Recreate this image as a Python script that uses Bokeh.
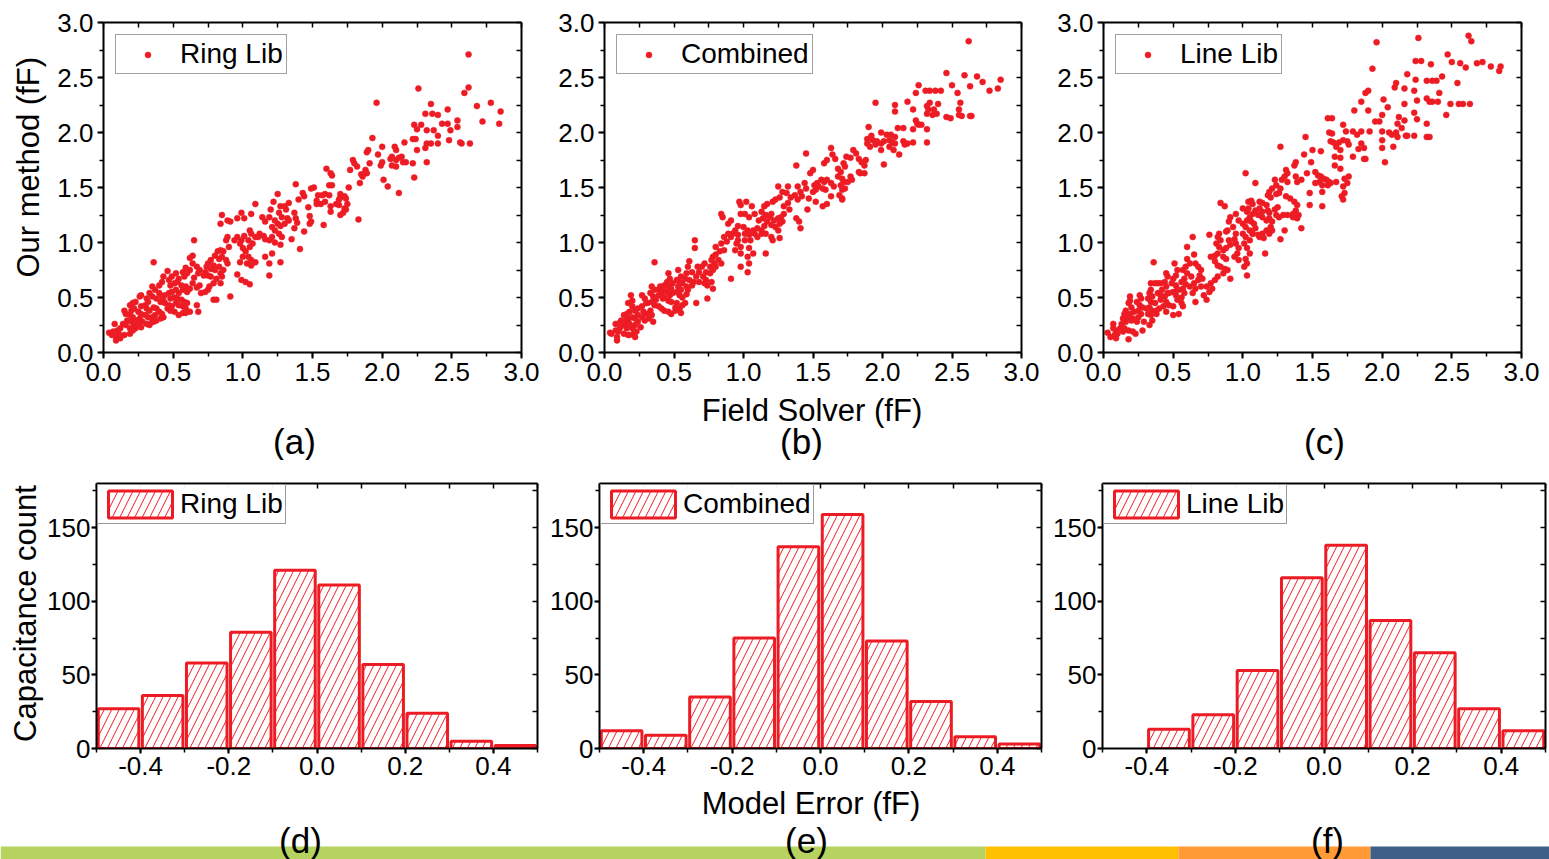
import math
from bokeh.plotting import figure
from bokeh.layouts import row, column
from bokeh.models import (LinearAxis, SingleIntervalTicker, FixedTicker, NumeralTickFormatter,
                          Legend, LegendItem, ColumnDataSource, Range1d)
from bokeh.core.properties import value
from bokeh.embed import file_html
from bokeh.resources import INLINE

RED = "#ed1c24"
FONT = "Liberation Sans"

# ---------------- data ----------------
scatter_names = ["Ring Lib", "Combined", "Line Lib"]
top_tags = ["(a)", "(b)", "(c)"]
bottom_tags = ["(d)", "(e)", "(f)"]
x_title_top = "Field Solver (fF)"
y_title_top = "Our method (fF)"
x_title_bottom = "Model Error (fF)"
y_title_bottom = "Capacitance count"

ring_pts = [
(2.62,2.71),(2.26,2.40),(2.62,2.41),(2.59,2.36),(1.96,2.27),(2.78,2.27),(2.68,2.24),(2.85,2.19),(2.47,2.21),(2.35,2.26),
(2.31,2.17),(2.36,2.17),(2.40,2.16),(2.72,2.10),(2.84,2.08),(2.54,2.11),(2.43,2.08),(2.47,2.08),(2.23,2.07),(2.28,2.07),
(2.25,2.03),(2.32,2.02),(2.37,2.02),(2.49,2.02),(2.54,2.05),(2.40,1.97),(1.93,1.95),(2.00,1.87),(2.48,1.93),(2.56,1.91),
(2.57,1.90),(2.63,1.90),(2.22,1.94),(2.24,1.94),(2.32,1.90),(2.35,1.90),(2.40,1.90),(2.31,1.86),(2.25,1.84),(2.16,1.91),
(2.09,1.87),(2.10,1.84),(1.90,1.84),(1.89,1.82),(1.97,1.80),(2.07,1.78),(2.06,1.76),(2.10,1.75),(2.12,1.77),(2.14,1.78),
(2.32,1.73),(2.22,1.72),(2.17,1.73),(2.15,1.73),(2.00,1.73),(1.99,1.70),(2.07,1.70),(2.10,1.69),(1.79,1.75),(1.80,1.72),
(1.91,1.72),(1.88,1.66),(1.85,1.62),(1.86,1.60),(1.89,1.63),(1.77,1.66),(1.82,1.69),(2.23,1.59),(1.84,1.54),(2.01,1.57),
(2.04,1.51),(2.12,1.45),(1.83,1.21),(1.60,1.67),(1.63,1.63),(1.64,1.61),(1.62,1.52),(1.64,1.52),(1.76,1.50),(1.49,1.49),
(1.51,1.50),(1.38,1.53),(1.43,1.45),(1.44,1.42),(1.40,1.39),(1.47,1.32),(1.33,1.36),(1.54,1.43),(1.57,1.43),(1.59,1.44),
(1.62,1.43),(1.70,1.44),(1.73,1.42),(1.70,1.41),(1.74,1.40),(1.69,1.39),(1.53,1.38),(1.56,1.35),(1.59,1.37),(1.53,1.35),
(1.63,1.33),(1.67,1.35),(1.69,1.34),(1.73,1.31),(1.75,1.35),(1.63,1.28),(1.70,1.25),(1.72,1.27),(1.74,1.30),(1.58,1.16),
(1.48,1.24),(1.49,1.19),(1.48,1.17),(1.44,1.10),(1.41,0.94),(1.35,1.03),(1.37,1.27),(1.38,1.22),(1.39,1.18),(1.37,1.13),
(1.25,1.44),(1.22,1.37),(1.27,1.33),(1.30,1.33),(1.31,1.30),(1.26,1.27),(1.28,1.23),(1.32,1.22),(1.33,1.20),(1.30,1.17),
(1.23,1.20),(1.25,1.17),(1.27,1.15),(1.21,1.14),(1.23,1.11),(1.20,1.30),(1.19,1.23),(1.14,1.23),(1.16,1.19),(1.09,1.35),
(1.06,1.26),(0.99,1.27),(1.01,1.22),(0.96,1.22),(0.85,1.25),(0.89,1.20),(0.91,1.19),(0.84,1.17),(1.12,1.08),(1.15,1.06),
(1.16,1.03),(1.19,1.02),(1.21,1.05),(1.11,1.05),(1.26,1.08),(1.28,1.05),(1.27,0.98),(1.23,1.00),(1.27,0.82),(1.21,0.90),
(1.16,0.87),(1.19,0.81),(1.19,0.70),(1.05,1.11),(1.06,1.08),(1.09,1.05),(1.04,1.02),(1.07,0.99),(1.05,0.96),(1.01,1.06),
(0.99,1.02),(0.96,1.05),(0.94,1.02),(0.98,0.99),(1.00,0.95),(1.02,0.92),(1.04,0.87),(1.06,0.84),(1.03,0.81),(1.00,0.87),
(0.98,0.82),(0.96,0.71),(0.99,0.66),(1.02,0.64),(1.05,0.62),(1.06,0.79),(1.09,0.82),(0.89,1.05),(0.88,1.02),(0.90,0.96),
(0.86,0.92),(0.84,0.93),(0.82,0.92),(0.80,0.88),(0.83,0.85),(0.85,0.87),(0.88,0.84),(0.89,0.81),(0.77,0.84),(0.75,0.81),
(0.79,0.79),(0.77,0.76),(0.80,0.75),(0.83,0.78),(0.74,0.78),(0.73,0.73),(0.72,0.70),(0.75,0.70),(0.77,0.69),(0.81,0.67),
(0.84,0.72),(0.86,0.75),(0.85,0.69),(0.79,0.63),(0.84,0.63),(0.76,0.60),(0.91,0.51),(0.79,0.48),(0.81,0.48),(0.70,0.54),
(0.73,0.55),(0.75,0.57),(0.67,0.59),(0.69,0.61),(0.64,0.63),(0.65,0.68),(0.68,0.72),(0.69,0.75),(0.67,0.78),(0.64,0.81),
(0.62,0.86),(0.65,1.02),(0.64,0.88),(0.59,0.77),(0.62,0.75),(0.60,0.72),(0.57,0.73),(0.58,0.69),(0.54,0.67),(0.52,0.72),
(0.49,0.69),(0.47,0.66),(0.53,0.64),(0.51,0.63),(0.48,0.61),(0.56,0.61),(0.59,0.60),(0.62,0.58),(0.57,0.57),(0.54,0.54),
(0.60,0.55),(0.52,0.57),(0.49,0.55),(0.47,0.54),(0.44,0.52),(0.51,0.50),(0.48,0.49),(0.53,0.49),(0.56,0.48),(0.58,0.46),
(0.60,0.45),(0.54,0.43),(0.57,0.42),(0.59,0.40),(0.52,0.45),(0.62,0.37),(0.59,0.36),(0.57,0.36),(0.54,0.34),(0.67,0.43),
(0.68,0.37),(0.46,0.74),(0.43,0.69),(0.42,0.64),(0.40,0.61),(0.37,0.57),(0.40,0.54),(0.42,0.51),(0.38,0.49),(0.41,0.46),
(0.43,0.47),(0.44,0.45),(0.47,0.43),(0.49,0.42),(0.46,0.40),(0.48,0.38),(0.51,0.37),(0.35,0.60),(0.33,0.54),(0.35,0.51),
(0.36,0.82),(0.31,0.49),(0.32,0.46),(0.30,0.43),(0.27,0.42),(0.31,0.40),(0.33,0.38),(0.36,0.41),(0.38,0.40),(0.40,0.37),
(0.42,0.35),(0.37,0.34),(0.35,0.32),(0.41,0.31),(0.43,0.32),(0.38,0.29),(0.36,0.28),(0.26,0.51),(0.27,0.52),(0.23,0.46),
(0.21,0.45),(0.19,0.43),(0.22,0.40),(0.20,0.38),(0.25,0.37),(0.27,0.35),(0.30,0.34),(0.32,0.32),(0.26,0.31),(0.24,0.29),
(0.21,0.32),(0.19,0.34),(0.16,0.35),(0.15,0.38),(0.28,0.28),(0.31,0.26),(0.33,0.25),(0.35,0.28),(0.25,0.26),(0.22,0.25),
(0.27,0.23),(0.20,0.28),(0.17,0.29),(0.14,0.26),(0.16,0.25),(0.19,0.22),(0.21,0.20),(0.23,0.22),(0.12,0.22),(0.10,0.20),
(0.11,0.17),(0.15,0.16),(0.09,0.14),(0.12,0.13),(0.19,0.17),(0.04,0.18),(0.08,0.26),(0.09,0.11),(0.06,0.16),(0.07,0.19),
]

combined_pts = [
(2.62,2.83),(2.46,2.54),(2.59,2.52),(2.68,2.51),(2.72,2.46),(2.85,2.48),(2.77,2.38),(2.83,2.40),(2.26,2.43),(2.50,2.43),
(2.63,2.42),(2.54,2.36),(2.24,2.36),(2.31,2.38),(2.34,2.38),(2.38,2.38),(2.42,2.38),(2.34,2.27),(2.40,2.26),(2.18,2.28),
(1.95,2.27),(2.09,2.25),(2.09,2.19),(2.56,2.27),(2.22,2.21),(2.32,2.24),(2.33,2.21),(2.37,2.21),(2.32,2.17),(2.36,2.16),
(2.39,2.17),(2.46,2.14),(2.49,2.13),(2.55,2.21),(2.55,2.16),(2.57,2.15),(2.63,2.15),(2.64,2.15),(2.24,2.11),(2.25,2.08),
(2.26,2.07),(2.22,2.03),(2.32,2.03),(2.28,2.07),(2.11,2.04),(2.15,2.04),(1.90,2.05),(1.99,2.00),(2.03,1.98),(2.06,1.98),
(2.09,1.96),(1.92,1.97),(1.93,1.93),(1.89,1.94),(1.89,1.90),(1.96,1.92),(1.99,1.90),(2.01,1.92),(2.05,1.93),(2.07,1.91),
(2.09,1.90),(2.05,1.87),(1.91,1.87),(1.95,1.89),(2.15,1.92),(2.18,1.90),(2.16,1.89),(2.22,1.91),(2.32,1.91),(1.99,1.84),
(2.08,1.84),(2.12,1.80),(2.01,1.71),(1.79,1.84),(1.81,1.81),(1.74,1.78),(1.77,1.77),(1.83,1.76),(1.85,1.73),(1.88,1.75),
(1.87,1.70),(1.83,1.64),(1.84,1.63),(1.87,1.63),(1.45,1.81),(1.38,1.70),(1.63,1.86),(1.64,1.80),(1.66,1.76),(1.60,1.75),
(1.58,1.72),(1.72,1.72),(1.73,1.69),(1.68,1.67),(1.70,1.64),(1.50,1.66),(1.48,1.63),(1.77,1.60),(1.78,1.57),(1.75,1.55),
(1.68,1.60),(1.71,1.58),(1.72,1.55),(1.70,1.52),(1.65,1.51),(1.63,1.54),(1.60,1.57),(1.56,1.57),(1.58,1.55),(1.53,1.54),
(1.51,1.52),(1.54,1.51),(1.57,1.49),(1.59,1.48),(1.52,1.48),(1.50,1.46),(1.44,1.54),(1.45,1.49),(1.41,1.46),(1.42,1.42),
(1.47,1.40),(1.46,1.30),(1.71,1.48),(1.73,1.49),(1.69,1.43),(1.71,1.40),(1.71,1.39),(1.63,1.42),(1.60,1.35),(1.57,1.33),
(1.52,1.37),(1.39,1.51),(1.37,1.43),(1.39,1.39),(1.32,1.51),(1.31,1.45),(1.34,1.41),(1.32,1.36),(1.29,1.33),(1.33,1.30),
(1.25,1.51),(1.28,1.46),(1.26,1.41),(1.23,1.39),(1.21,1.37),(1.17,1.35),(1.15,1.33),(1.38,1.22),(1.40,1.19),(1.41,1.13),
(1.29,1.26),(1.27,1.23),(1.25,1.22),(1.22,1.20),(1.28,1.19),(1.26,1.17),(1.23,1.14),(1.20,1.26),(1.19,1.23),(1.16,1.25),
(1.14,1.22),(1.17,1.19),(1.20,1.16),(1.15,1.15),(1.13,1.11),(1.16,1.08),(1.25,1.11),(1.26,1.04),(1.20,1.05),(1.21,1.02),
(1.16,0.90),(1.13,1.08),(1.02,1.37),(1.06,1.33),(1.08,1.26),(1.04,1.23),(1.01,1.26),(0.98,1.26),(1.13,1.28),(1.11,1.20),
(0.97,1.37),(0.98,1.34),(0.84,1.26),(0.85,1.23),(0.91,1.20),(0.89,1.17),(0.94,1.11),(0.96,1.15),(1.00,1.14),(1.03,1.11),
(1.07,1.11),(1.10,1.13),(0.92,1.08),(0.96,1.07),(1.01,1.08),(1.04,1.07),(1.08,1.08),(1.10,1.05),(1.05,1.02),(1.01,1.02),
(0.96,1.02),(0.91,1.05),(0.89,1.08),(0.95,0.99),(0.98,0.96),(1.04,0.95),(1.07,0.90),(1.03,0.87),(0.98,0.90),(0.94,0.93),
(1.04,0.81),(1.03,0.73),(0.98,0.78),(0.91,0.67),(0.86,1.05),(0.84,0.99),(0.88,1.01),(0.86,0.93),(0.80,0.96),(0.83,0.92),
(0.80,0.89),(0.78,0.87),(0.77,0.84),(0.82,0.84),(0.84,0.81),(0.80,0.78),(0.78,0.75),(0.76,0.72),(0.73,0.73),(0.76,0.78),
(0.79,0.81),(0.72,0.81),(0.70,0.78),(0.68,0.73),(0.71,0.69),(0.73,0.66),(0.77,0.64),(0.74,0.61),(0.72,0.63),(0.78,0.58),
(0.65,1.02),(0.65,0.95),(0.67,0.78),(0.66,0.69),(0.68,0.64),(0.64,0.64),(0.74,0.49),(0.66,0.45),(0.61,0.83),(0.60,0.78),
(0.63,0.73),(0.59,0.72),(0.58,0.67),(0.61,0.66),(0.56,0.63),(0.59,0.60),(0.63,0.61),(0.60,0.57),(0.53,0.75),(0.55,0.69),
(0.54,0.64),(0.52,0.66),(0.49,0.63),(0.53,0.60),(0.55,0.57),(0.52,0.55),(0.49,0.54),(0.54,0.52),(0.56,0.50),(0.59,0.53),
(0.46,0.72),(0.47,0.67),(0.45,0.64),(0.43,0.61),(0.46,0.60),(0.48,0.58),(0.42,0.57),(0.45,0.55),(0.47,0.52),(0.43,0.50),
(0.41,0.53),(0.39,0.57),(0.40,0.60),(0.39,0.52),(0.42,0.49),(0.46,0.47),(0.48,0.46),(0.52,0.45),(0.51,0.41),(0.54,0.40),
(0.56,0.43),(0.58,0.45),(0.55,0.36),(0.36,0.82),(0.34,0.60),(0.36,0.57),(0.33,0.54),(0.35,0.51),(0.37,0.48),(0.34,0.46),
(0.31,0.45),(0.36,0.43),(0.39,0.42),(0.41,0.40),(0.43,0.38),(0.46,0.37),(0.48,0.35),(0.51,0.38),(0.27,0.52),(0.29,0.49),
(0.30,0.45),(0.27,0.42),(0.24,0.40),(0.28,0.37),(0.30,0.35),(0.33,0.38),(0.34,0.34),(0.32,0.31),(0.35,0.28),(0.29,0.29),
(0.27,0.32),(0.24,0.34),(0.19,0.52),(0.20,0.47),(0.17,0.45),(0.20,0.42),(0.22,0.38),(0.18,0.37),(0.16,0.35),(0.20,0.32),
(0.22,0.31),(0.17,0.29),(0.15,0.28),(0.18,0.26),(0.22,0.25),(0.20,0.22),(0.16,0.22),(0.14,0.25),(0.24,0.28),(0.26,0.23),
(0.21,0.17),(0.23,0.19),(0.17,0.16),(0.14,0.17),(0.10,0.19),(0.11,0.22),(0.08,0.20),(0.05,0.17),(0.09,0.14),(0.08,0.26),
(0.04,0.18),(0.09,0.11),(0.18,0.16),(0.22,0.14),(0.12,0.29),(0.16,0.32),(0.14,0.34),(0.11,0.27),
]

line_pts = [
(2.62,2.88),(2.64,2.83),(2.26,2.86),(1.96,2.82),(1.93,2.58),(2.47,2.71),(2.24,2.65),(2.28,2.65),(2.50,2.64),(2.56,2.63),
(2.60,2.59),(2.35,2.62),(2.68,2.63),(2.72,2.64),(2.78,2.60),(2.85,2.60),(2.84,2.56),(2.18,2.53),(2.43,2.51),(2.24,2.48),
(2.32,2.47),(2.36,2.47),(2.39,2.47),(2.10,2.45),(2.09,2.41),(2.16,2.40),(2.54,2.45),(2.23,2.38),(1.90,2.38),(1.88,2.36),
(1.85,2.28),(2.41,2.36),(2.01,2.30),(2.25,2.29),(2.32,2.31),(2.34,2.28),(2.36,2.28),(2.40,2.28),(2.16,2.26),(2.49,2.26),
(2.55,2.26),(2.58,2.26),(2.63,2.26),(2.04,2.23),(1.80,2.20),(1.90,2.20),(2.23,2.18),(2.46,2.16),(1.61,2.13),(1.64,2.13),
(2.00,2.16),(2.12,2.14),(2.16,2.11),(2.25,2.12),(1.95,2.10),(1.98,2.10),(2.32,2.08),(1.72,2.07),(2.11,2.08),(2.14,2.04),
(1.79,2.01),(1.85,2.01),(1.91,2.01),(2.00,2.01),(1.74,2.01),(1.62,2.00),(1.64,1.99),(1.82,1.98),(2.05,2.00),(2.07,1.98),
(2.10,2.00),(2.11,1.96),(2.17,1.97),(2.18,1.97),(2.23,1.97),(2.32,1.96),(2.34,1.96),(2.00,1.93),(2.00,1.86),(2.08,1.87),
(2.02,1.73),(1.45,1.96),(1.27,1.87),(1.63,1.92),(1.65,1.91),(1.67,1.87),(1.72,1.93),(1.69,1.91),(1.75,1.92),(1.76,1.89),
(1.85,1.90),(1.83,1.85),(1.87,1.86),(1.56,1.83),(1.50,1.84),(1.44,1.80),(1.66,1.78),(1.70,1.84),(1.70,1.77),(1.79,1.78),
(1.87,1.76),(1.88,1.76),(1.49,1.73),(1.38,1.73),(1.37,1.70),(1.66,1.70),(1.70,1.67),(1.46,1.63),(1.02,1.63),(1.31,1.66),
(1.32,1.63),(1.30,1.60),(1.28,1.57),(1.32,1.55),(1.39,1.55),(1.42,1.57),(1.38,1.60),(1.52,1.64),(1.54,1.61),(1.56,1.60),
(1.58,1.58),(1.60,1.57),(1.62,1.55),(1.55,1.55),(1.52,1.54),(1.57,1.52),(1.61,1.52),(1.63,1.54),(1.73,1.58),(1.76,1.60),
(1.72,1.51),(1.75,1.54),(1.73,1.45),(1.71,1.42),(1.72,1.39),(1.67,1.55),(1.57,1.46),(1.57,1.33),(1.48,1.45),(1.48,1.34),
(1.09,1.54),(1.23,1.57),(1.24,1.52),(1.21,1.49),(1.19,1.46),(1.18,1.43),(1.20,1.41),(1.24,1.44),(1.26,1.45),(1.27,1.49),
(1.31,1.42),(1.34,1.40),(1.37,1.37),(1.39,1.34),(1.38,1.29),(1.36,1.26),(1.32,1.25),(1.36,1.23),(1.39,1.22),(1.40,1.25),
(1.42,1.13),(1.30,1.11),(1.27,1.03),(1.25,1.32),(1.23,1.30),(1.19,1.27),(1.24,1.25),(1.26,1.23),(1.29,1.25),(1.12,1.37),
(1.14,1.36),(1.17,1.34),(1.18,1.29),(1.14,1.28),(1.12,1.31),(1.09,1.29),(1.07,1.26),(1.11,1.25),(1.14,1.23),(1.17,1.20),
(1.19,1.22),(1.21,1.19),(1.20,1.14),(1.17,1.11),(1.14,1.08),(1.12,1.05),(1.15,1.04),(1.19,1.08),(1.21,1.11),(1.16,0.90),
(1.06,1.38),(1.04,1.37),(1.07,1.35),(1.04,1.31),(1.03,1.28),(1.05,1.23),(1.03,1.20),(1.00,1.31),(0.95,1.26),(0.97,1.20),
(1.00,1.17),(1.02,1.14),(1.05,1.11),(1.07,1.08),(1.09,1.13),(1.08,1.17),(1.06,1.19),(1.00,1.08),(1.02,1.05),(1.05,1.02),
(1.01,0.99),(1.03,0.95),(1.05,0.90),(1.02,0.85),(1.03,0.81),(1.01,0.78),(1.03,0.70),(1.07,1.08),(1.11,1.07),(0.91,1.23),
(0.90,1.19),(0.93,1.14),(0.89,1.11),(0.95,1.08),(0.94,1.03),(0.90,1.02),(0.91,0.98),(0.88,0.95),(0.95,0.99),(0.97,0.95),
(0.96,0.90),(0.94,0.87),(0.97,0.84),(0.84,1.36),(0.87,1.33),(0.88,1.10),(0.83,1.08),(0.82,1.05),(0.84,1.02),(0.81,0.99),
(0.83,0.96),(0.86,0.93),(0.82,0.90),(0.80,0.88),(0.77,0.87),(0.86,0.87),(0.88,0.85),(0.80,0.83),(0.82,0.79),(0.84,0.78),
(0.87,0.76),(0.89,0.75),(0.86,0.72),(0.82,0.69),(0.80,0.66),(0.77,0.63),(0.78,0.58),(0.74,0.60),(0.76,0.55),(0.72,0.52),
(0.74,0.48),(0.91,0.67),(0.76,1.07),(0.64,1.05),(0.60,0.96),(0.65,0.89),(0.66,0.81),(0.68,0.78),(0.70,0.75),(0.69,0.70),
(0.71,0.67),(0.68,0.66),(0.65,0.63),(0.66,0.58),(0.70,0.60),(0.64,0.54),(0.66,0.46),(0.60,0.85),(0.62,0.81),(0.59,0.78),
(0.57,0.75),(0.60,0.72),(0.63,0.69),(0.58,0.67),(0.56,0.64),(0.59,0.62),(0.62,0.60),(0.57,0.58),(0.54,0.57),(0.58,0.54),
(0.51,0.81),(0.53,0.75),(0.52,0.70),(0.50,0.67),(0.49,0.63),(0.52,0.61),(0.53,0.57),(0.50,0.55),(0.47,0.54),(0.52,0.52),
(0.56,0.50),(0.53,0.48),(0.56,0.45),(0.57,0.42),(0.54,0.35),(0.45,0.72),(0.46,0.69),(0.44,0.64),(0.45,0.60),(0.42,0.57),
(0.46,0.54),(0.44,0.51),(0.41,0.52),(0.39,0.54),(0.41,0.48),(0.45,0.46),(0.47,0.43),(0.50,0.42),(0.43,0.42),(0.40,0.40),
(0.38,0.38),(0.45,0.37),(0.50,0.34),(0.36,0.82),(0.34,0.63),(0.37,0.63),(0.39,0.63),(0.41,0.63),(0.34,0.57),(0.33,0.54),
(0.35,0.51),(0.32,0.49),(0.34,0.46),(0.37,0.45),(0.33,0.41),(0.31,0.40),(0.35,0.38),(0.38,0.35),(0.34,0.34),(0.32,0.35),
(0.35,0.29),(0.33,0.25),(0.29,0.28),(0.28,0.20),(0.26,0.52),(0.27,0.49),(0.24,0.46),(0.26,0.43),(0.28,0.41),(0.25,0.38),
(0.22,0.37),(0.27,0.35),(0.25,0.32),(0.21,0.31),(0.24,0.28),(0.20,0.29),(0.18,0.32),(0.19,0.35),(0.16,0.38),(0.20,0.41),
(0.18,0.45),(0.19,0.51),(0.19,0.47),(0.15,0.35),(0.14,0.31),(0.16,0.28),(0.13,0.26),(0.15,0.22),(0.18,0.20),(0.14,0.19),
(0.12,0.22),(0.09,0.20),(0.07,0.22),(0.10,0.17),(0.08,0.16),(0.05,0.14),(0.09,0.13),(0.03,0.18),(0.07,0.26),(0.18,0.12),
(0.21,0.19),(0.23,0.17),
]

bin_centers = [-0.45, -0.35, -0.25, -0.15, -0.05, 0.05, 0.15, 0.25, 0.35, 0.45]
ring_counts = [27, 36, 58, 79, 121, 111, 57, 24, 5, 2]
combined_counts = [12, 9, 35, 75, 137, 159, 73, 32, 8, 3]
line_counts = [0, 13, 23, 53, 116, 138, 87, 65, 27, 12]

scatter_mirror_ticks = [0.0, 0.25, 0.5, 0.75, 1.0, 1.25, 1.5, 1.75, 2.0, 2.25, 2.5, 2.75, 3.0]
hist_x_mirror_ticks = [-0.5, -0.4, -0.3, -0.2, -0.1, 0.0, 0.1, 0.2, 0.3, 0.4, 0.5]
hist_y_mirror_ticks = [0, 25, 50, 75, 100, 125, 150, 175]

stripe_colors = ["#b6d25f", "#ffc000", "#ff9a35", "#3e5f86"]
stripe_edges = [0, 985, 1178, 1370, 1549]

TOP_H = 392      # top row height (frames y 22..352)
BOT_H = 326      # bottom row height (frames y 483..748)
STRIP1_H = 460 - TOP_H
STRIP2_H = 859 - 460 - BOT_H
YLAB_BOT_W = 44


# ---------------- helpers ----------------
def base_axis(ax):
    ax.axis_line_color = "black"
    ax.axis_line_width = 2
    ax.major_tick_line_color = "black"
    ax.major_tick_line_width = 2
    ax.minor_tick_line_color = "black"
    ax.minor_tick_line_width = 1.5


def main_axis(interval, fmt, standoff, tick_out=6):
    ax = LinearAxis(ticker=SingleIntervalTicker(interval=interval, num_minor_ticks=2),
                    formatter=NumeralTickFormatter(format=fmt))
    base_axis(ax)
    ax.major_tick_out, ax.major_tick_in = tick_out, 0
    ax.minor_tick_out, ax.minor_tick_in = 4, 0
    ax.major_label_text_font = FONT
    ax.major_label_text_font_size = "26px"
    ax.major_label_text_color = "black"
    ax.major_label_standoff = standoff
    return ax


def mirror_axis(ticks):
    ax = LinearAxis(ticker=FixedTicker(ticks=[], minor_ticks=ticks))
    base_axis(ax)
    ax.major_tick_out, ax.major_tick_in = 0, 0
    ax.minor_tick_out, ax.minor_tick_in = 0, 5
    ax.major_label_standoff = 0
    return ax


def strip(width, height):
    s = figure(width=width, height=height, x_range=Range1d(0, width), y_range=Range1d(0, height),
               output_backend="svg", toolbar_location=None,
               x_axis_location=None, y_axis_location=None, min_border=0)
    s.outline_line_color = None
    s.grid.visible = False
    s.border_fill_color = "white"
    s.background_fill_color = "white"
    return s


def put_text(fig, xs, ys, texts, size, angle=0.0):
    src = ColumnDataSource(dict(x=xs, y=ys, t=texts))
    fig.text(x="x", y="y", text="t", source=src, text_font=value(FONT), text_font_size=size,
             text_align="center", text_baseline="middle", text_color="black", angle=angle)


def make_scatter(pts, name, width, bl, br):
    p = figure(width=width, height=TOP_H, x_range=Range1d(0, 3), y_range=Range1d(0, 3),
               output_backend="svg", toolbar_location=None,
               x_axis_location=None, y_axis_location=None,
               min_border_left=bl, min_border_right=br, min_border_top=22,
               min_border_bottom=TOP_H - 352)
    p.outline_line_color = None
    p.grid.visible = False
    p.background_fill_color = "white"
    p.border_fill_color = "white"
    p.add_layout(main_axis(0.5, "0.0", 4), "below")
    p.add_layout(main_axis(0.5, "0.0", 4), "left")
    p.add_layout(mirror_axis(scatter_mirror_ticks), "above")
    p.add_layout(mirror_axis(scatter_mirror_ticks), "right")
    src = ColumnDataSource(dict(x=[q[0] for q in pts], y=[q[1] for q in pts]))
    r = p.scatter("x", "y", source=src, size=6, fill_color=RED, line_color=RED, line_width=0.5)
    leg = Legend(items=[LegendItem(label=name, renderers=[r])], location="top_left",
                 margin=12, padding=3, glyph_width=57, glyph_height=15, label_standoff=4,
                 label_text_font=FONT, label_text_font_size="28px", label_text_color="black",
                 border_line_color="#444444", border_line_width=1, spacing=0,
                 label_height=30)
    p.add_layout(leg)
    return p


def make_hist(counts, name, width, bl, br):
    p = figure(width=width, height=BOT_H, x_range=Range1d(-0.5, 0.5), y_range=Range1d(0, 180),
               output_backend="svg", toolbar_location=None,
               x_axis_location=None, y_axis_location=None,
               min_border_left=bl, min_border_right=br, min_border_top=23,
               min_border_bottom=BOT_H - (748 - 460))
    p.outline_line_color = None
    p.grid.visible = False
    p.background_fill_color = "white"
    p.border_fill_color = "white"
    p.add_layout(main_axis(0.2, "0.0", 3, 5), "below")
    p.add_layout(main_axis(50, "0", 1, 5), "left")
    p.add_layout(mirror_axis(hist_x_mirror_ticks), "above")
    p.add_layout(mirror_axis(hist_y_mirror_ticks), "right")
    xs = [c for c, n in zip(bin_centers, counts) if n > 0]
    tops = [n for n in counts if n > 0]
    src = ColumnDataSource(dict(x=xs, top=tops))
    r = p.vbar(x="x", top="top", bottom=0, width=0.092, source=src, fill_color="white",
               line_color=RED, line_width=3, hatch_pattern="/", hatch_color=RED,
               hatch_scale=15, hatch_weight=1)
    leg = Legend(items=[LegendItem(label=name, renderers=[r])], location="top_left",
                 margin=1, padding=2, glyph_width=80, glyph_height=34, label_standoff=0,
                 label_text_font=FONT, label_text_font_size="28px", label_text_color="black",
                 border_line_color="#333333", border_line_width=1, spacing=0,
                 label_height=30)
    p.add_layout(leg)
    return p


# ---------------- top row ----------------
ylab_top = strip(47, TOP_H)
put_text(ylab_top, [28], [TOP_H - 172], [y_title_top], "31px", math.pi / 2)
pa = make_scatter(ring_pts, scatter_names[0], 498, 56, 24)
pb = make_scatter(combined_pts, scatter_names[1], 500, 59, 24)
pc = make_scatter(line_pts, scatter_names[2], 504, 58, 28)

# strip with x title and tags
strip_top = strip(1549, STRIP1_H)
put_text(strip_top, [811.5], [460 - 410], [x_title_top], "31px")
put_text(strip_top, [294, 801, 1324], [460 - 441] * 3, top_tags, "35px")

# ---------------- bottom row ----------------
ylab_bot = strip(YLAB_BOT_W, BOT_H)
put_text(ylab_bot, [25], [460 + BOT_H - 620], [y_title_bottom], "31px", math.pi / 2)
pd = make_hist(ring_counts, scatter_names[0], 545 - YLAB_BOT_W, 95 - YLAB_BOT_W, 8)
pe = make_hist(combined_counts, scatter_names[1], 500, 54, 4)
pf = make_hist(line_counts, scatter_names[2], 504, 57, 4)

# bottom strip with x title, tags and coloured band
strip_bot = strip(1549, STRIP2_H)
sq = ColumnDataSource(dict(left=stripe_edges[:-1], right=stripe_edges[1:], color=stripe_colors))
strip_bot.quad(left="left", right="right", bottom=0, top=13, fill_color="color", line_color=None, source=sq)
put_text(strip_bot, [810.5], [859 - 803], [x_title_bottom], "31px")
put_text(strip_bot, [300, 806, 1327], [859 - 840] * 3, bottom_tags, "35px")

layout = column(row(ylab_top, pa, pb, pc), strip_top,
                row(ylab_bot, pd, pe, pf), strip_bot)

open("out.html", "w").write(file_html(layout, INLINE))
